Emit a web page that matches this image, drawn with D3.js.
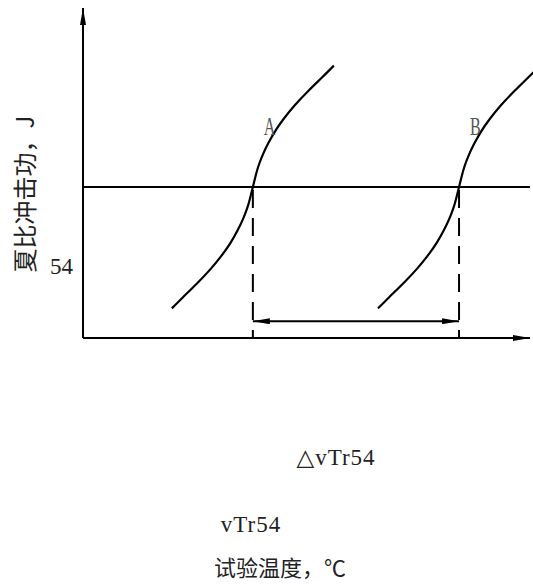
<!DOCTYPE html>
<html>
<head>
<meta charset="utf-8">
<script src="https://cdn.jsdelivr.net/npm/d3@7"></script>
<style>
  body { margin: 0; background: #fff; }
  text { font-family: "Liberation Serif", "DejaVu Serif", serif; fill: #222; }
  .cjk { font-family: "Noto Sans CJK SC", sans-serif; }
</style>
</head>
<body>
<svg id="chart"></svg>
<script>
// Curve A (temperature units, energy J)
const tempA = [31.8, 35.8, 40.8, 45.8, 49.8, 52.8, 55.3, 57.3, 58.8, 59.8, 60.8,
               61.8, 62.8, 64.3, 66.3, 68.8, 71.8, 75.8, 80.8, 85.8, 89.8];
const energyA = [10.6, 14.6, 19.5, 24.8, 29.7, 34, 38.4, 42.6, 46.5, 50, 54,
                 58, 61.5, 65.4, 69.6, 74, 78.3, 83.2, 88.5, 93.4, 97.4];
// Curve B, same shape at higher temperature
const tempB = [105.6, 109.6, 114.6, 119.6, 123.6, 126.6, 129.1, 131.1, 132.6, 133.6, 134.6,
               135.6, 136.6, 138.1, 140.1, 142.6, 145.6, 149.6, 154.6, 159.6, 163.6];
const energyB = [10.6, 14.6, 19.5, 24.8, 29.7, 34, 38.4, 42.6, 46.5, 50, 54,
                 58, 61.5, 65.4, 69.6, 74, 78.3, 83.2, 88.5, 93.4, 97.4];

const refEnergy = 54;           // the 54 J level
const transitionTemps = [60.8, 134.6];   // vTr54 of A and B
const shiftArrowEnergy = 6;     // where the delta arrow sits
const curveLabels = ["A", "B"];

function drawChart() {
    const width = 533, height = 585;

    const x = d3.scaleLinear().domain([0, 160]).range([83, 530]);
    const y = d3.scaleLinear().domain([0, 118]).range([338, 8]);

    const svg = d3.select("#chart")
        .attr("width", width)
        .attr("height", height);

    // arrow heads
    const defs = svg.append("defs");
    defs.append("marker")
        .attr("id", "arrow")
        .attr("viewBox", "0 -3 17 6")
        .attr("refX", 17)
        .attr("refY", 0)
        .attr("markerWidth", 17)
        .attr("markerHeight", 6)
        .attr("markerUnits", "userSpaceOnUse")
        .attr("orient", "auto-start-reverse")
        .append("path")
        .attr("d", "M0,-3L17,0L0,3Z")
        .attr("fill", "#000");

    // axes (plain lines with arrows, no ticks)
    svg.append("line")
        .attr("x1", x(0)).attr("y1", y(0))
        .attr("x2", x(0)).attr("y2", y(118))
        .attr("stroke", "#000").attr("stroke-width", 2)
        .attr("marker-end", "url(#arrow)");

    svg.append("line")
        .attr("x1", x(0)).attr("y1", y(0))
        .attr("x2", x(160)).attr("y2", y(0))
        .attr("stroke", "#000").attr("stroke-width", 2)
        .attr("marker-end", "url(#arrow)");

    // 54 J level
    svg.append("line")
        .attr("x1", x(0)).attr("y1", y(refEnergy))
        .attr("x2", x(160)).attr("y2", y(refEnergy))
        .attr("stroke", "#000").attr("stroke-width", 2);

    // dashed drop lines
    svg.selectAll("line.drop")
        .data(transitionTemps)
        .enter().append("line")
        .attr("class", "drop")
        .attr("x1", d => x(d)).attr("y1", y(refEnergy) + 3)
        .attr("x2", d => x(d)).attr("y2", y(0))
        .attr("stroke", "#000").attr("stroke-width", 2)
        .attr("stroke-dasharray", "18,10");

    // transition curves
    const line = d3.line()
        .x(d => x(d[0]))
        .y(d => y(d[1]))
        .curve(d3.curveNatural);

    const curves = [d3.zip(tempA, energyA), d3.zip(tempB, energyB)];
    svg.selectAll("path.curve")
        .data(curves)
        .enter().append("path")
        .attr("class", "curve")
        .attr("d", line)
        .attr("fill", "none")
        .attr("stroke", "#000")
        .attr("stroke-width", 2.2);

    // curve labels
    svg.selectAll("text.curve-label")
        .data(curveLabels)
        .enter().append("text")
        .attr("class", "curve-label")
        .attr("transform", (d, i) => `translate(${x(transitionTemps[i]) + 11}, 135) scale(0.62, 1)`)
        .style("font-size", "26px")
        .style("fill", "#555")
        .text(d => d);

    // shift arrow between the two transition temps
    svg.append("line")
        .attr("x1", x(transitionTemps[0])).attr("y1", y(shiftArrowEnergy))
        .attr("x2", x(transitionTemps[1])).attr("y2", y(shiftArrowEnergy))
        .attr("stroke", "#000").attr("stroke-width", 2)
        .attr("marker-start", "url(#arrow)")
        .attr("marker-end", "url(#arrow)");

    // texts
    svg.append("text")
        .attr("x", 50).attr("y", 274)
        .style("font-size", "23px")
        .text("54");

    svg.append("text")
        .attr("class", "cjk")
        .attr("transform", "translate(23, 194) rotate(-90)")
        .attr("text-anchor", "middle")
        .attr("dominant-baseline", "central")
        .style("font-size", "24px")
        .text("夏比冲击功，J");

    svg.append("text")
        .attr("x", 336).attr("y", 465)
        .attr("text-anchor", "middle")
        .style("font-size", "23px")
        .style("letter-spacing", "1px")
        .text("△vTr54");

    svg.append("text")
        .attr("x", 251).attr("y", 532)
        .attr("text-anchor", "middle")
        .style("font-size", "23px")
        .style("letter-spacing", "1px")
        .text("vTr54");

    svg.append("text")
        .attr("class", "cjk")
        .attr("x", 280).attr("y", 576)
        .attr("text-anchor", "middle")
        .style("font-size", "22px")
        .text("试验温度，℃");
}

document.addEventListener("DOMContentLoaded", () => {
    drawChart();
});
</script>
</body>
</html>
